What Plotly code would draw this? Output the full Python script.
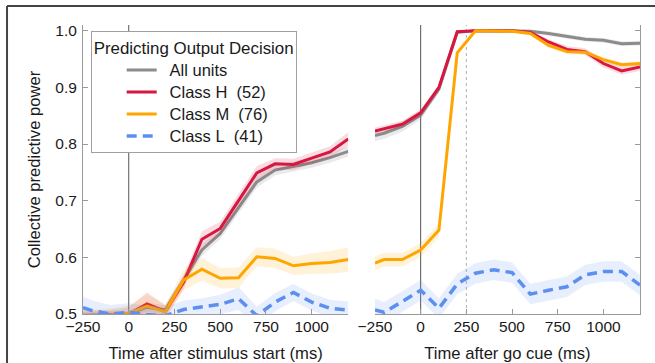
import plotly.graph_objects as go

# ---------------- data ----------------
times = [-250, -200, -100, 0, 100, 200, 300, 400, 500, 600, 700, 800, 900, 1000, 1100, 1200]

# left panel: time after stimulus start
stim_all = [0.498, 0.498, 0.499, 0.500, 0.512, 0.507, 0.560, 0.613, 0.642, 0.688, 0.733, 0.754, 0.760, 0.767, 0.776, 0.787]
stim_H   = [0.496, 0.496, 0.497, 0.500, 0.518, 0.504, 0.556, 0.632, 0.651, 0.700, 0.749, 0.765, 0.764, 0.775, 0.786, 0.809]
stim_M   = [0.497, 0.497, 0.498, 0.501, 0.514, 0.504, 0.560, 0.579, 0.563, 0.564, 0.601, 0.598, 0.585, 0.589, 0.591, 0.596]
stim_L   = [0.511, 0.506, 0.500, 0.503, 0.499, 0.497, 0.508, 0.512, 0.517, 0.527, 0.497, 0.521, 0.538, 0.521, 0.510, 0.507]

stim_all_err = [0.006, 0.006, 0.006, 0.006, 0.008, 0.008, 0.010, 0.010, 0.010, 0.010, 0.010, 0.009, 0.009, 0.009, 0.009, 0.009]
stim_H_err   = [0.010, 0.010, 0.010, 0.012, 0.020, 0.012, 0.012, 0.014, 0.012, 0.012, 0.012, 0.010, 0.010, 0.010, 0.010, 0.012]
stim_M_err   = [0.010, 0.010, 0.012, 0.014, 0.020, 0.012, 0.018, 0.020, 0.018, 0.018, 0.017, 0.017, 0.016, 0.018, 0.020, 0.022]
stim_L_err   = [0.020, 0.018, 0.016, 0.016, 0.016, 0.015, 0.016, 0.016, 0.017, 0.020, 0.016, 0.016, 0.015, 0.015, 0.015, 0.015]

# right panel: time after go cue
go_all = [0.815, 0.819, 0.831, 0.851, 0.897, 0.997, 1.000, 1.000, 1.000, 0.999, 0.995, 0.990, 0.985, 0.983, 0.977, 0.978]
go_H   = [0.823, 0.827, 0.835, 0.855, 0.900, 0.998, 1.000, 1.000, 1.000, 0.997, 0.980, 0.967, 0.963, 0.942, 0.929, 0.936]
go_M   = [0.590, 0.596, 0.596, 0.613, 0.648, 0.961, 1.000, 1.000, 0.999, 0.995, 0.974, 0.963, 0.962, 0.949, 0.940, 0.942]
go_L   = [0.507, 0.503, 0.522, 0.542, 0.510, 0.553, 0.572, 0.578, 0.573, 0.535, 0.542, 0.548, 0.569, 0.575, 0.575, 0.551]

go_all_err = [0.010, 0.010, 0.009, 0.008, 0.006, 0.003, 0.002, 0.002, 0.002, 0.003, 0.004, 0.004, 0.004, 0.004, 0.004, 0.004]
go_H_err   = [0.006, 0.006, 0.006, 0.006, 0.005, 0.003, 0.002, 0.002, 0.002, 0.003, 0.005, 0.006, 0.006, 0.007, 0.007, 0.007]
go_M_err   = [0.012, 0.012, 0.012, 0.012, 0.012, 0.004, 0.002, 0.002, 0.002, 0.003, 0.004, 0.004, 0.004, 0.004, 0.004, 0.004]
go_L_err   = [0.020, 0.018, 0.018, 0.018, 0.018, 0.018, 0.018, 0.018, 0.018, 0.018, 0.018, 0.018, 0.018, 0.018, 0.018, 0.018]

labels = ["All units", "Class H\u00a0\u00a0(52)", "Class M\u00a0\u00a0(76)", "Class L\u00a0\u00a0(41)"]
line_colors = ["#8c8c8c", "#d8163f", "#ffa500", "#5b8ff0"]
band_colors = ["rgba(140,140,140,0.18)", "rgba(216,22,63,0.15)", "rgba(255,165,0,0.15)", "rgba(91,143,240,0.15)"]
dashes = ["solid", "solid", "solid", "10px,6px"]
widths = [3, 3, 3, 3.5]

x_ticks = [-250, 0, 250, 500, 750, 1000]
y_ticks = [0.5, 0.6, 0.7, 0.8, 0.9, 1.0]

# ---------------- figure ----------------
fig = go.Figure()

panels = [
    ("x", "y", [stim_all, stim_H, stim_M, stim_L], [stim_all_err, stim_H_err, stim_M_err, stim_L_err], True),
    ("x2", "y2", [go_all, go_H, go_M, go_L], [go_all_err, go_H_err, go_M_err, go_L_err], False),
]

for xa, ya, series, errs, show in panels:
    for i, (vals, err) in enumerate(zip(series, errs)):
        upper = [v + e for v, e in zip(vals, err)]
        lower = [v - e for v, e in zip(vals, err)]
        fig.add_trace(go.Scatter(
            x=times + times[::-1], y=upper + lower[::-1],
            fill="toself", fillcolor=band_colors[i], line=dict(width=0),
            mode="lines", hoverinfo="skip", showlegend=False,
            xaxis=xa, yaxis=ya,
        ))
        fig.add_trace(go.Scatter(
            x=times, y=vals, mode="lines",
            name="<span style='font-size:16.5px'>\u00a0\u2009" + labels[i] + "</span>",
            line=dict(color=line_colors[i], width=widths[i], dash=dashes[i]),
            showlegend=show, xaxis=xa, yaxis=ya,
        ))

axis_common = dict(
    showline=True, linecolor="#9a9a9a", linewidth=1,
    ticks="inside", ticklen=5, tickcolor="#9a9a9a", tickwidth=1,
    showgrid=False, zeroline=False, automargin=False,
    tickfont=dict(size=15.5, color="#1a1a1a"),
)

fig.update_layout(
    template="none",
    width=655, height=363,
    margin=dict(l=83, r=15, t=25, b=49, pad=0),
    paper_bgcolor="white", plot_bgcolor="white",
    font=dict(family="Liberation Sans, Arial, sans-serif", color="#1a1a1a", size=16),
    xaxis=dict(domain=[0, 0.4763], range=[-250, 1200], tickvals=x_ticks,
               title=dict(text="Time after stimulus start (ms)", font=dict(size=16.6), standoff=13),
               anchor="y", ticklabelstandoff=-2, **axis_common),
    yaxis=dict(domain=[0, 1], range=[0.5, 1.01], tickvals=y_ticks, tickformat=".1f",
               title=dict(text="Collective predictive power", font=dict(size=16.6), standoff=10),
               anchor="x", ticklabelstandoff=2, **axis_common),
    xaxis2=dict(domain=[0.5242, 1.0], range=[-250, 1200], tickvals=x_ticks,
                title=dict(text="Time after go cue (ms)", font=dict(size=16.6), standoff=13),
                anchor="y2", ticklabelstandoff=-2, **axis_common),
    yaxis2=dict(domain=[0, 1], range=[0.5, 1.01], tickvals=y_ticks, side="right",
                showticklabels=False, anchor="x2", **axis_common),
    legend=dict(
        x=0.0138, y=0.979, xanchor="left", yanchor="top",
        bgcolor="white", bordercolor="#a0a0a0", borderwidth=1,
        font=dict(size=14.6, color="#1a1a1a"),
        title=dict(text="Predicting Output Decision", font=dict(size=16.9)),
        indentation=30,
    ),
    showlegend=True,
)

# event lines
fig.add_shape(type="line", xref="x", yref="y domain", x0=0, x1=0, y0=0, y1=1,
              line=dict(color="#555555", width=1), layer="below")
fig.add_shape(type="line", xref="x2", yref="y2 domain", x0=0, x1=0, y0=0, y1=1,
              line=dict(color="#555555", width=1), layer="below")
fig.add_shape(type="line", xref="x2", yref="y2 domain", x0=250, x1=250, y0=0, y1=1,
              line=dict(color="#b0b0b0", width=1, dash="dot"), layer="below")

# outer frame (top and left edges)
fig.add_shape(type="line", xref="paper", yref="paper", x0=-0.1364, x1=1.03, y0=1.0657, y1=1.0657,
              line=dict(color="#444444", width=2))
fig.add_shape(type="line", xref="paper", yref="paper", x0=-0.1364, x1=-0.1364, y0=1.0657, y1=-0.18,
              line=dict(color="#444444", width=2))

fig.write_html(
    "out.html",
    config={"displayModeBar": False},
    post_script="document.body.style.margin='0';document.body.style.padding='0';",
)
